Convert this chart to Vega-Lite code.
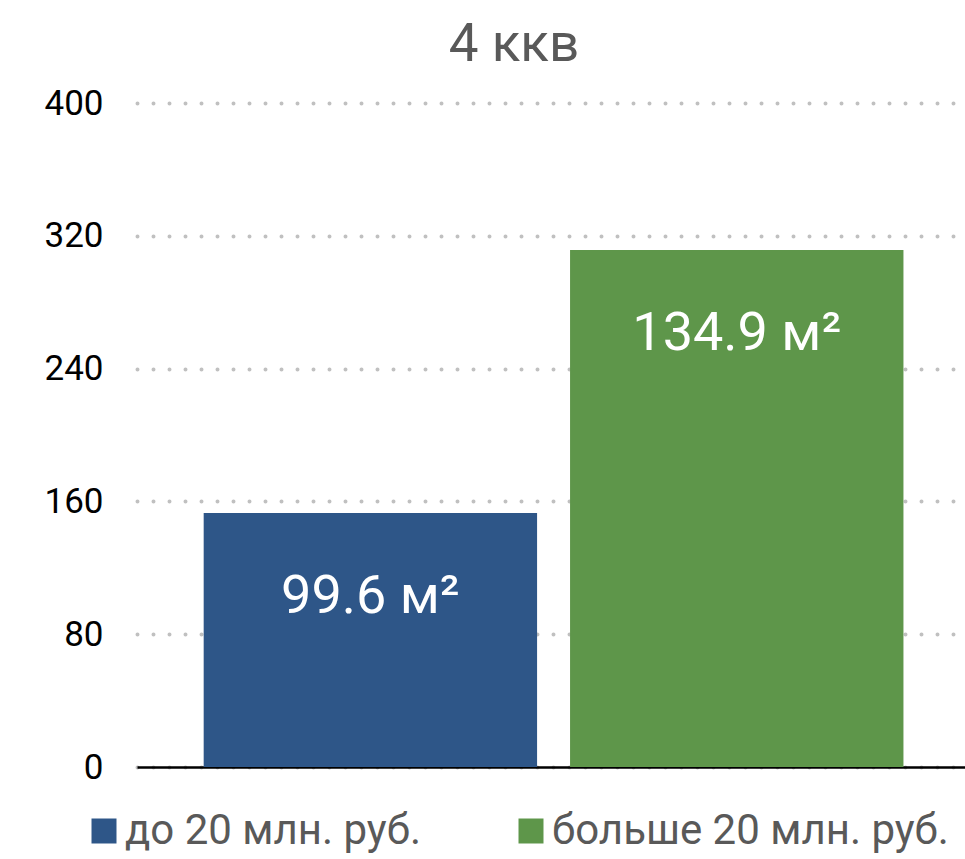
{
  "$schema": "https://vega.github.io/schema/vega-lite/v6.json",
  "width": 828,
  "height": 664,
  "autosize": {"type": "none"},
  "padding": {"left": 137, "top": 103, "right": 0, "bottom": 92},
  "background": "white",
  "config": {"font": "Roboto", "view": {"stroke": null}},
  "title": {"text": "4 ккв", "fontSize": 53, "font": "Roboto", "fontWeight": "normal", "color": "#595959", "anchor": "middle", "dx": -37, "offset": 14},
  "data": {"values": [
    {"cat": "до 20 млн. руб.", "value": 153, "label": "99.6 м²"},
    {"cat": "больше 20 млн. руб.", "value": 311.4, "label": "134.9 м²"}
  ]},
  "encoding": {
    "x": {"field": "cat", "type": "nominal", "sort": null,
      "scale": {"paddingInner": 0.09, "paddingOuter": 0.175, "align": 0.52},
      "axis": {"labels": false, "ticks": false, "title": null, "domainColor": "black", "domainWidth": 2.5}},
    "y": {"field": "value", "type": "quantitative",
      "scale": {"domain": [0, 400], "nice": false},
      "axis": {"values": [0, 80, 160, 240, 320, 400], "title": null, "domain": false, "ticks": false,
        "labelFontSize": 35, "labelColor": "black", "labelPadding": 34, "labelFont": "Roboto",
        "grid": true, "gridDash": [0, 16], "gridCap": "round", "gridWidth": 4, "gridColor": "#c0c0c0"}}
  },
  "layer": [
    {"mark": {"type": "bar"},
     "encoding": {
       "color": {"field": "cat", "type": "nominal", "sort": null,
         "scale": {"domain": ["до 20 млн. руб.", "больше 20 млн. руб."], "range": ["#2e5688", "#5e964a"]},
         "legend": {"title": null, "orient": "none", "legendX": -54, "legendY": 707, "direction": "horizontal",
           "symbolType": "square", "symbolSize": 625, "symbolStrokeWidth": 0, "symbolOpacity": 1,
           "labelFontSize": 42, "labelColor": "#595959", "labelFont": "Roboto", "labelOffset": 0, "columnPadding": 88, "labelLimit": 600}}}},
    {"mark": {"type": "text", "color": "white", "fontSize": 54, "font": "Roboto", "baseline": "alphabetic", "dy": 100},
     "encoding": {"text": {"field": "label"}}}
  ]
}
